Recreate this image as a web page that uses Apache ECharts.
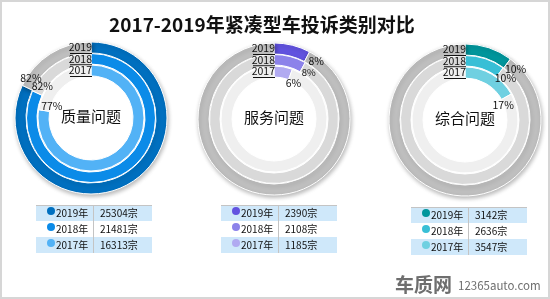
<!DOCTYPE html>
<html>
<head>
<meta charset="utf-8">
<script src="https://cdn.jsdelivr.net/npm/echarts@6/dist/echarts.min.js"></script>
<style>
html,body{margin:0;padding:0;background:#fff;}
#chart{width:550px;height:299px;}
</style>
</head>
<body>
<div id="chart"></div>
<script>
// ---- data ----
const title = '2017-2019年紧凑型车投诉类别对比';
const years = ['2019', '2018', '2017'];
const categories = ['质量问题', '服务问题', '综合问题'];
const qualityCounts = [25304, 21481, 16313];
const serviceCounts = [2390, 2108, 1185];
const generalCounts = [3142, 2636, 3547];
const qualityPct = [82, 82, 77];
const servicePct = [8, 8, 6];
const generalPct = [10, 10, 17];
const unitYear = '年';
const unitCount = '宗';

// ---- styles / layout ----
const FONT = '"Noto Sans CJK SC", "Microsoft YaHei", sans-serif';
const palettes = [
  ['#0070c0', '#0b8be8', '#52b2f6'],
  ['#6253e0', '#8c82ea', '#b1aaf1'],
  ['#00969c', '#38bfd6', '#6fd0e1']
];
const grays = ['#bfbfbf', '#d9d9d9', '#efefef'];
const centers = [[91, 118], [274, 119], [465, 120]];
const radii = [[65, 76], [54, 64.5], [42, 53]];
const labelR = [72, 58, 41];
const tableX = [36, 221, 411];
const tableTop = [205, 205, 207];
const rowH = 16;
const tableW = 116;
const divX = 57;

const allCounts = [qualityCounts, serviceCounts, generalCounts];
const allPct = [qualityPct, servicePct, generalPct];

const series = [];
const graphic = [];

graphic.push({
  type: 'rect', shape: {x: 1, y: 1, width: 548, height: 297},
  style: {fill: 'none', stroke: '#d6d6d6', lineWidth: 2}, z: 100
});

categories.forEach((cat, ci) => {
  const [cx, cy] = centers[ci];
  years.forEach((yr, yi) => {
    const v = allCounts[ci][yi];
    let total = 0;
    allCounts.forEach(arr => { total += arr[yi]; });
    series.push({
      type: 'pie',
      center: [cx, cy],
      radius: radii[yi],
      startAngle: 90,
      clockwise: true,
      silent: true,
      animation: false,
      avoidLabelOverlap: false,
      label: {show: false},
      labelLine: {show: false},
      emphasis: {disabled: true},
      z: 2,
      itemStyle: yi === 0 ? {
        borderColor: '#fff', borderWidth: 1,
        shadowBlur: 4, shadowColor: 'rgba(0,0,0,0.28)', shadowOffsetX: 1, shadowOffsetY: 2
      } : {borderColor: '#fff', borderWidth: 1},
      data: [
        {value: v, itemStyle: {color: palettes[ci][yi]}},
        {value: total - v, itemStyle: {color: grays[yi]}}
      ]
    });
    // year label at top of ring
    const rm = (radii[yi][0] + radii[yi][1]) / 2;
    const ty = cy - rm;
    graphic.push({
      type: 'text', x: cx + 1, y: ty, z: 10,
      style: {text: yr, fill: '#111', font: '10.5px ' + FONT, align: 'right', verticalAlign: 'middle'}
    });
    graphic.push({
      type: 'line', z: 10,
      shape: {x1: cx + 1 - 22, y1: ty + 6, x2: cx + 1, y2: ty + 6},
      style: {stroke: '#111', lineWidth: 1}
    });
    // percent label near the arc end
    const ang = (v / total * 360 + 8) * Math.PI / 180;
    const lx = cx + labelR[yi] * Math.sin(ang);
    const ly = cy - labelR[yi] * Math.cos(ang);
    graphic.push({
      type: 'text', x: lx, y: ly, z: 10,
      style: {text: allPct[ci][yi] + '%', fill: '#111', font: (ci === 1 && yi === 1 ? '9.5px ' : '10.5px ') + FONT, align: 'center', verticalAlign: 'middle'}
    });
  });
  // center text
  graphic.push({
    type: 'text', x: cx, y: cy - 2, z: 10,
    style: {text: cat, fill: '#111', font: '15px ' + FONT, align: 'center', verticalAlign: 'middle'}
  });
  // table
  const tx = tableX[ci], tt = tableTop[ci];
  years.forEach((yr, yi) => {
    const ry = tt + yi * rowH;
    graphic.push({
      type: 'rect', z: 5, shape: {x: tx, y: ry, width: tableW, height: rowH},
      style: {fill: yi === 1 ? '#ffffff' : '#cfe8fa'}
    });
    graphic.push({
      type: 'circle', z: 6, shape: {cx: tx + 15, cy: ry + rowH / 2 - 2, r: 4},
      style: {fill: palettes[ci][yi]}
    });
    graphic.push({
      type: 'text', z: 6, x: tx + 20, y: ry + rowH / 2 + 0.5,
      style: {text: yr + unitYear, fill: '#111', font: '10px ' + FONT, align: 'left', verticalAlign: 'middle'}
    });
    graphic.push({
      type: 'text', z: 6, x: tx + divX + 7, y: ry + rowH / 2 + 0.5,
      style: {text: allCounts[ci][yi] + unitCount, fill: '#111', font: '10px ' + FONT, align: 'left', verticalAlign: 'middle'}
    });
  });
  graphic.push({
    type: 'line', z: 7, shape: {x1: tx, y1: tt + 0.5, x2: tx + tableW, y2: tt + 0.5},
    style: {stroke: '#c4c4c4', lineWidth: 1}
  });
  graphic.push({
    type: 'line', z: 7, shape: {x1: tx + divX + 0.5, y1: tt, x2: tx + divX + 0.5, y2: tt + 3 * rowH},
    style: {stroke: '#c4c4c4', lineWidth: 1}
  });
});

// watermark logo
graphic.push({
  type: 'text', x: 395, y: 285, z: 10,
  style: {text: '车质网', fill: '#6e6e6e', font: 'bold 19px ' + FONT, align: 'left', verticalAlign: 'middle'}
});
graphic.push({
  type: 'text', x: 458, y: 286, z: 10,
  style: {text: '12365auto.com', fill: '#6e6e6e', font: '11.5px ' + FONT, align: 'left', verticalAlign: 'middle'}
});

const chart = echarts.init(document.getElementById('chart'), null, {renderer: 'canvas'});
chart.setOption({
  backgroundColor: '#ffffff',
  animation: false,
  title: {
    text: title, left: 104, top: 10,
    textStyle: {fontFamily: FONT, fontSize: 19, fontWeight: 'bold', color: '#111'}
  },
  series: series,
  graphic: graphic
});
</script>
</body>
</html>
